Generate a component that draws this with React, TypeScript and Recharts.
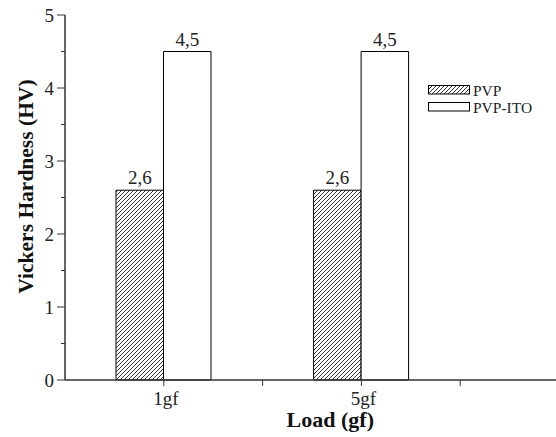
import React from 'react';
import { BarChart, Bar, XAxis, YAxis, LabelList } from 'recharts';

const categories = ['1gf', '5gf'];
const categorySlots = [1, 3];
const seriesNames = ['PVP', 'PVP-ITO'];
const pvpValues = [2.6, 2.6];
const pvpItoValues = [4.5, 4.5];
const yTicks = [0, 0.5, 1, 1.5, 2, 2.5, 3, 3.5, 4, 4.5, 5];
const xTicks = [0, 1, 2, 3, 4, 5];

const data = categories.map((c, i) => ({
  name: c,
  slot: categorySlots[i],
  pvp: pvpValues[i],
  pvpIto: pvpItoValues[i],
}));

const FONT = '"Liberation Serif", "Times New Roman", serif';
const AXIS = '#333';

const fmt = (v: any) => String(v).replace('.', ',');

const YTick = (props: any) => {
  const { x, y, payload } = props;
  const v = payload.value;
  const major = Math.abs(v - Math.round(v)) < 1e-6;
  return (
    <g>
      <line x1={x - (major ? 8 : 4)} x2={x} y1={y} y2={y} stroke={AXIS} strokeWidth={1} />
      {major && (
        <text x={x - 11} y={y + 6.5} textAnchor="end" fontFamily={FONT} fontSize={19} fill="#222">
          {v}
        </text>
      )}
    </g>
  );
};

const XTick = (props: any) => {
  const { x, y, payload } = props;
  const v = payload.value;
  if (v <= 0 || v >= 5) return <g />;
  const idx = categorySlots.indexOf(v);
  return (
    <g>
      <line x1={x} x2={x} y1={y} y2={y + 6} stroke={AXIS} strokeWidth={1} />
      {idx >= 0 && (
        <text x={x + 2} y={y + 25} textAnchor="middle" fontFamily={FONT} fontSize={19} fill="#222">
          {categories[idx]}
        </text>
      )}
    </g>
  );
};

const TopTick = (props: any) => {
  const { x, y, payload } = props;
  const v = payload.value;
  if (v <= 0 || v >= 5) return <g />;
  return <line x1={x} x2={x} y1={y} y2={y + 2} stroke={AXIS} strokeWidth={1.5} />;
};

const XLabel = (props: any) => {
  const vb = props.viewBox || {};
  const cx = vb.x + vb.width * 0.537;
  return (
    <text x={cx} y={vb.y + 47} textAnchor="middle" fontFamily={FONT} fontSize={22} fontWeight="bold" fill="#111">
      Load (gf)
    </text>
  );
};

const YLabel = (props: any) => {
  const vb = props.viewBox || {};
  const cx = 33;
  const cy = vb.y + vb.height * 0.47;
  return (
    <text
      x={cx}
      y={cy}
      transform={`rotate(-90, ${cx}, ${cy})`}
      textAnchor="middle"
      fontFamily={FONT}
      fontSize={21.5}
      fontWeight="bold"
      fill="#111"
    >
      Vickers Hardness (HV)
    </text>
  );
};

const HatchDef = ({ id }: { id: string }) => (
  <pattern id={id} patternUnits="userSpaceOnUse" width="4" height="4">
    <rect width="4" height="4" fill="#fff" />
    <path d="M-1,1 l2,-2 M0,4 l4,-4 M3,5 l2,-2" stroke="#000" strokeWidth="0.8" />
  </pattern>
);

const swatchFills = ['url(#hatchLegend)', '#fff'];

const Legendo = () => (
  <svg width={130} height={40} style={{ position: 'absolute', left: 428, top: 82 }}>
    <defs>
      <HatchDef id="hatchLegend" />
    </defs>
    {seriesNames.map((n, i) => (
      <g key={n} transform={`translate(0, ${i * 17})`}>
        <rect x={0.5} y={3.5} width={41} height={8.5} fill={swatchFills[i]} stroke="#000" strokeWidth={1} />
        <text x={45} y={14} fontFamily={FONT} fontSize={15.5} fill="#222">{n}</text>
      </g>
    ))}
  </svg>
);

export default function App() {
  return (
    <div style={{ position: 'absolute', left: 0, top: 0, width: 556, height: 437, overflow: 'hidden', background: '#fff' }}>
      <BarChart
        width={562}
        height={437}
        data={data}
        margin={{ top: 15, right: 3, bottom: 0, left: 0 }}
        barGap={0}
        barSize={47.5}
      >
        <defs>
          <HatchDef id="hatchBar" />
        </defs>
        <XAxis
          xAxisId="top"
          orientation="top"
          type="number"
          dataKey="slot"
          domain={[0, 5]}
          ticks={xTicks}
          height={0}
          tickSize={0}
          tickMargin={0}
          tickLine={false}
          tick={<TopTick />}
          axisLine={{ stroke: AXIS, strokeWidth: 1.5 }}
          interval={0}
        />
        <XAxis
          xAxisId="bottom"
          type="number"
          dataKey="slot"
          domain={[0, 5]}
          ticks={xTicks}
          height={57}
          tickSize={0}
          tickMargin={0}
          tickLine={false}
          tick={<XTick />}
          axisLine={{ stroke: AXIS, strokeWidth: 1.5 }}
          interval={0}
          label={<XLabel />}
        />
        <YAxis
          type="number"
          domain={[0, 5]}
          ticks={yTicks}
          width={65}
          tickSize={0}
          tickMargin={0}
          tickLine={false}
          tick={<YTick />}
          axisLine={{ stroke: AXIS, strokeWidth: 1.5 }}
          interval={0}
          label={<YLabel />}
        />
        <Bar xAxisId="bottom" dataKey="pvp" name={seriesNames[0]} fill="url(#hatchBar)" stroke="#000" strokeWidth={1} isAnimationActive={false}>
          <LabelList dataKey="pvp" position="top" offset={6} formatter={fmt} fontFamily={FONT} fontSize={19} fill="#222" />
        </Bar>
        <Bar xAxisId="bottom" dataKey="pvpIto" name={seriesNames[1]} fill="#fff" stroke="#000" strokeWidth={1} isAnimationActive={false}>
          <LabelList dataKey="pvpIto" position="top" offset={6} formatter={fmt} fontFamily={FONT} fontSize={19} fill="#222" />
        </Bar>
      </BarChart>
      <Legendo />
    </div>
  );
}
